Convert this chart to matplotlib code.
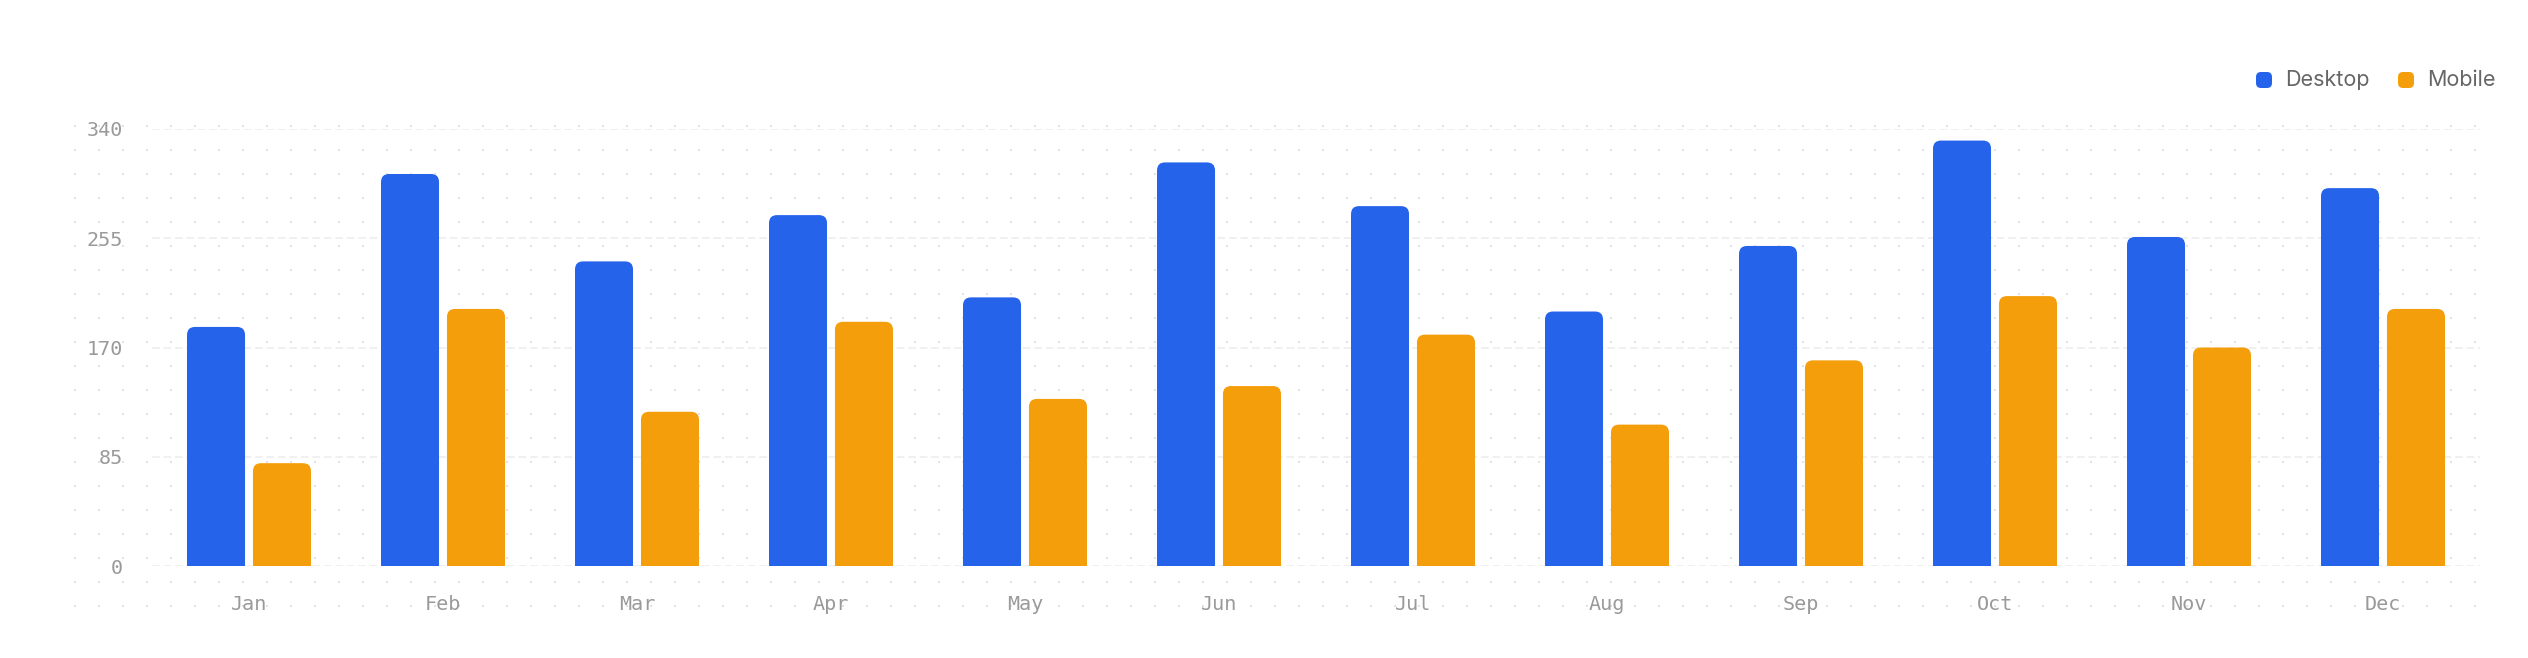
import matplotlib
matplotlib.use('Agg')
import matplotlib.pyplot as plt
from matplotlib.patches import FancyBboxPatch
import numpy as np

months = ['Jan', 'Feb', 'Mar', 'Apr', 'May', 'Jun', 'Jul', 'Aug', 'Sep', 'Oct', 'Nov', 'Dec']
desktop = [186, 305, 237, 273, 209, 314, 280, 198, 249, 331, 256, 294]
mobile = [80, 200, 120, 190, 130, 140, 180, 110, 160, 210, 170, 200]
y_ticks = [0, 85, 170, 255, 340]

blue = '#2563eb'
orange = '#f59e0b'
tick_color = '#9a9a9a'

W, H = 2528, 658
fig = plt.figure(figsize=(W / 100, H / 100), dpi=100)

# background dot pattern, in pixel coordinates
bg = fig.add_axes([0, 0, 1, 1], zorder=-1)
bg.set_xlim(0, W)
bg.set_ylim(H, 0)
bg.axis('off')
gx, gy = np.meshgrid(np.arange(75, 2480, 24), np.arange(126, 610, 24))
bg.scatter(gx.ravel(), gy.ravel(), s=2.4, marker='s', color='#e2e2e2', linewidths=0)

# legend
for cx, label, col in [(2264, 'Desktop', blue), (2406, 'Mobile', orange)]:
    bg.add_patch(FancyBboxPatch((cx - 8, 72), 16, 16, boxstyle='round,pad=0,rounding_size=5',
                                facecolor=col, edgecolor='none'))
    bg.text(cx + 21, 80, label, fontsize=15.5, family='Inter', color='#666666',
            va='center', ha='left')

left, right, bottom, top = 152, 2480, 566, 129
ax = fig.add_axes([left / W, (H - bottom) / H, (right - left) / W, (bottom - top) / H])
ax.patch.set_alpha(0)
ax.set_xlim(-0.5, len(months) - 0.5)
ax.set_ylim(0, 340)

# pixel -> data aspect for rounded tops
px_x = (right - left) / len(months)
px_y = (bottom - top) / 340
aspect = px_x / px_y
r = 8 / px_x
ry = r * aspect

x = np.arange(len(months))
bw = 0.299
off = 0.170
for vals, col, dx in [(desktop, blue, -off), (mobile, orange, off)]:
    ax.bar(x + dx, np.array(vals) - ry, width=bw, color=col, zorder=3, linewidth=0)
    for xi, v in zip(x, vals):
        ax.add_patch(FancyBboxPatch((xi + dx - bw / 2, 0), bw, v,
                                    boxstyle=f'round,pad=0,rounding_size={r}',
                                    mutation_aspect=aspect, facecolor=col,
                                    edgecolor='none', zorder=3))

ax.set_yticks(y_ticks)
ax.set_yticklabels([str(t) for t in y_ticks])
ax.set_xticks(x)
ax.set_xticklabels(months)
ax.tick_params(axis='both', length=0, labelsize=14.5, labelcolor=tick_color)
ax.tick_params(axis='y', pad=21)
ax.tick_params(axis='x', pad=21)
for lab in ax.get_xticklabels() + ax.get_yticklabels():
    lab.set_family('DejaVu Sans Mono')

ax.grid(axis='y', color='#ececec', linewidth=1.1, linestyle=(0, (5, 2.5)), zorder=0)
ax.set_axisbelow(True)
for s in ax.spines.values():
    s.set_visible(False)

fig.savefig('out.png', dpi=100, facecolor='white')
